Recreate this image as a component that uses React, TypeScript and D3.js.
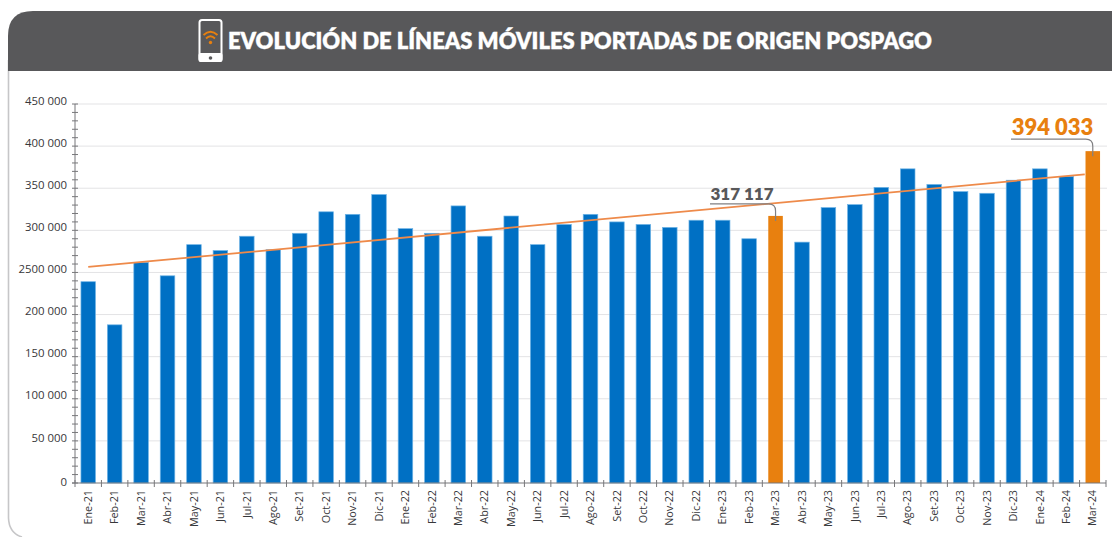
import * as d3 from "d3";

const WIDTH = 1112;
const HEIGHT = 537;

const months = [
  "Ene-21", "Feb-21", "Mar-21", "Abr-21", "May-21", "Jun-21", "Jul-21", "Ago-21", "Set-21", "Oct-21", "Nov-21", "Dic-21",
  "Ene-22", "Feb-22", "Mar-22", "Abr-22", "May-22", "Jun-22", "Jul-22", "Ago-22", "Set-22", "Oct-22", "Nov-22", "Dic-22",
  "Ene-23", "Feb-23", "Mar-23", "Abr-23", "May-23", "Jun-23", "Jul-23", "Ago-23", "Set-23", "Oct-23", "Nov-23", "Dic-23",
  "Ene-24", "Feb-24", "Mar-24",
];

const lines = [
  239000, 187800, 262000, 246000, 283000, 276000, 293000, 277000, 296500, 322000, 319000, 342500,
  302000, 296500, 329000, 293000, 317000, 283000, 307000, 319000, 310000, 307000, 303500, 312000,
  312000, 290000, 317117, 286000, 327000, 330500, 351000, 373000, 354500, 346000, 344000, 359500,
  373000, 364000, 394033,
];

const highlighted = ["Mar-23", "Mar-24"];

// the trend line: [month, value]
const trendMonths = ["Ene-21", "Mar-24"];
const trendValues = [256500, 366500];

const yTicks = [0, 50000, 100000, 150000, 200000, 250000, 300000, 350000, 400000, 450000];
const yTickLabels = ["0", "50 000", "100 000", "150 000", "200 000", "2500 000", "300 000", "350 000", "400 000", "450 000"];
const yMinorTicks = d3.range(0, 450001, 10000);

const BLUE = "#0070c4";
const ORANGE = "#e8800f";
const GREY = "#58585a";
const TEXT = "#37373a";

const x = d3.scaleBand<string>().domain(months).range([75, 1106]).paddingInner(0.45).paddingOuter(0.225);
const y = d3.scaleLinear().domain([0, 450000]).range([483, 104]);

const step = x.step();
const centre = (m: string) => (x(m) as number) + x.bandwidth() / 2;

const trendLine = d3.line<number>()
  .x((_, i) => (i === 0 ? centre(trendMonths[0]) : centre(trendMonths[1]) - 8))
  .y((d) => y(d));

// Callout leader: horizontal rule, rounded corner, drop into the bar
function leader(m: string, value: number, left: number, rise: number)
{
  const cx = centre(m);
  const top = y(value);
  const path = d3.path();
  path.moveTo(left, top - rise);
  path.lineTo(cx - 7, top - rise);
  path.quadraticCurveTo(cx, top - rise, cx, top - rise + 7);
  path.lineTo(cx, top + 5);
  return path.toString();
}

export default function App()
{
  const mar23 = lines[months.indexOf("Mar-23")];
  const mar24 = lines[months.indexOf("Mar-24")];

  return (
    <svg
      width={WIDTH}
      height={HEIGHT}
      style={{ position: "fixed", left: 0, top: 0, background: "#fff", display: "block" }}
      fontFamily="'Open Sans', sans-serif"
    >
      {/* Card outline and header */}
      <path d="M8.5,60 V518 Q9,533 22,537" fill="none" stroke="#c6c6c8" strokeWidth={1.6} />
      <path d="M8,71 V36 Q8,11 33,11 H1112 V71 Z" fill={GREY} />

      {/* Phone icon */}
      <g>
        <rect x={199.5} y={20} width={22} height={41} rx={2.5} fill={GREY} stroke="#fff" strokeWidth={2} />
        <rect x={198.5} y={53} width={24} height={9} rx={2} fill="#fff" />
        <circle cx={210.5} cy={58} r={1.8} fill={GREY} />
        <path d="M203.5,35 Q210.5,28.5 217.5,35" fill="none" stroke={ORANGE} strokeWidth={1.8} />
        <path d="M206,38.5 Q210.5,34 215,38.5" fill="none" stroke={ORANGE} strokeWidth={1.8} />
        <circle cx={210.5} cy={42.5} r={1.7} fill={ORANGE} />
      </g>
      <text
        x={228}
        y={49}
        fill="#fff"
        stroke="#fff"
        strokeWidth={0.35}
        fontFamily="Lato, sans-serif"
        fontWeight={800}
        fontSize={22.5}
        textLength={704}
        lengthAdjust="spacingAndGlyphs"
      >
        EVOLUCIÓN DE LÍNEAS MÓVILES PORTADAS DE ORIGEN POSPAGO
      </text>

      {/* Grid */}
      {yTicks.filter((t) => t > 0).map((t) => (
        <line key={t} x1={75} x2={1107} y1={y(t)} y2={y(t)} stroke="#e3e3e5" strokeWidth={1} />
      ))}

      {/* Bars */}
      {months.map((m, i) => (
        <rect
          key={m}
          x={x(m)}
          y={y(lines[i])}
          width={x.bandwidth()}
          height={y(0) - y(lines[i])}
          fill={highlighted.includes(m) ? ORANGE : BLUE}
          stroke={highlighted.includes(m) ? "none" : "#6fb4e6"}
          strokeWidth={0.7}
        />
      ))}

      {/* Y axis */}
      <line x1={75} x2={75} y1={y(450000)} y2={y(0)} stroke="#77777a" strokeWidth={1} />
      {yMinorTicks.map((t) => (
        <line key={t} x1={72} x2={78} y1={y(t)} y2={y(t)} stroke="#77777a" strokeWidth={1} />
      ))}
      {yTicks.map((t, i) => (
        <text key={t} x={67} y={y(t) - (t === 0 ? 1 : 3)} dy="0.32em" textAnchor="end" fontSize={11.4} fill={TEXT}>
          {yTickLabels[i]}
        </text>
      ))}

      {/* X axis */}
      <line x1={72} x2={1106} y1={y(0)} y2={y(0)} stroke="#77777a" strokeWidth={1} />
      {d3.range(0, months.length + 1).map((i) => (
        <line key={i} x1={75 + i * step} x2={75 + i * step} y1={y(0) - 3} y2={y(0) + 4} stroke="#77777a" strokeWidth={1} />
      ))}
      {months.map((m) => (
        <text
          key={m}
          transform={`translate(${centre(m)},${y(0) + 7}) rotate(-90)`}
          dy="0.34em"
          textAnchor="end"
          fontSize={10.8}
          fill={TEXT}
        >
          {m}
        </text>
      ))}

      {/* Trend */}
      <path d={trendLine(trendValues) as string} fill="none" stroke="#ee8a4a" strokeWidth={1.8} />

      {/* Callouts */}
      <path d={leader("Mar-23", mar23, 710, 12)} fill="none" stroke="#808083" strokeWidth={1.2} />
      <text x={742} y={y(mar23) - 16} textAnchor="middle" fontFamily="Lato, sans-serif" fontWeight={800} fontSize={17} fill={GREY}>
        317 117
      </text>
      <path d={leader("Mar-24", mar24, 1011, 12)} fill="none" stroke="#808083" strokeWidth={1.2} />
      <text x={1052.5} y={y(mar24) - 16} textAnchor="middle" fontFamily="Lato, sans-serif" fontWeight={800} fontSize={22} fill={ORANGE}>
        394 033
      </text>
    </svg>
  );
}
